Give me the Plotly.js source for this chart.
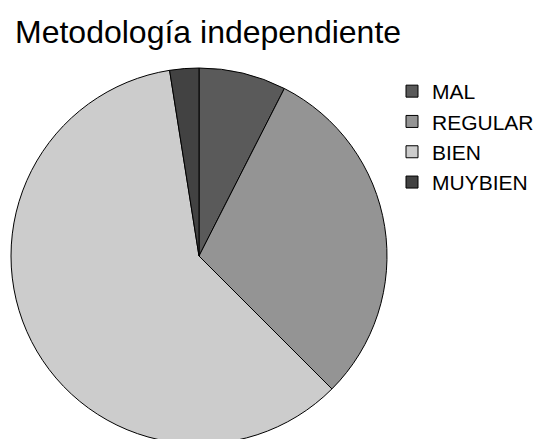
<!DOCTYPE html>
<html>
<head>
<meta charset="utf-8">
<script src="https://cdn.plot.ly/plotly-3.0.1.min.js"></script>
<style>
html,body{margin:0;padding:0;overflow:hidden;background:#fff;width:539px;height:439px;}
#chart{width:539px;height:450px;}
</style>
</head>
<body>
<div id="chart"></div>
<script>
const categories = ["MAL", "REGULAR", "BIEN", "MUYBIEN"];
const counts = [3, 12, 24, 1];
const sliceColors = ["#5a5a5a", "#949494", "#cccccc", "#424242"];

const W = 539, H = 450;
const trace = {
  type: "pie",
  labels: categories,
  values: counts,
  sort: false,
  direction: "clockwise",
  rotation: 0,
  textinfo: "none",
  hoverinfo: "label+value+percent",
  marker: { colors: sliceColors, line: { color: "#000000", width: 1 } },
  domain: { x: [11 / W, 387 / W], y: [1 - 444 / H, 1 - 68 / H] }
};

const layout = {
  width: W,
  height: H,
  margin: { l: 0, r: 0, t: 0, b: 0 },
  paper_bgcolor: "#ffffff",
  font: { family: "Liberation Sans, Arial, sans-serif", color: "#000000" },
  title: {
    text: "Metodología independiente",
    font: { size: 32, family: "Liberation Sans, Arial, sans-serif", color: "#000000" },
    x: 15 / W, xanchor: "left", xref: "paper",
    y: 1 - 43 / H, yanchor: "bottom", yref: "paper"
  },
  showlegend: true,
  legend: {
    x: 392 / W, xanchor: "left",
    y: 1 - 71 / H, yanchor: "top",
    font: { size: 21, family: "Liberation Sans, Arial, sans-serif", color: "#000000" },
    bgcolor: "rgba(0,0,0,0)",
    borderwidth: 0
  }
};

Plotly.newPlot("chart", [trace], layout, { staticPlot: true, displayModeBar: false });
</script>
</body>
</html>
